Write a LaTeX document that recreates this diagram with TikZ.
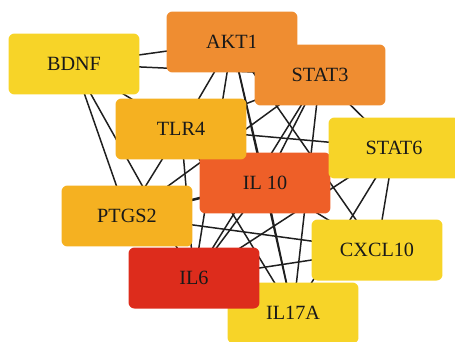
\documentclass[tikz,border=0pt]{standalone}
\usepackage{fontspec}
\setmainfont{Liberation Serif}
\usepackage{tikz}
\usetikzlibrary{backgrounds}
\definecolor{yel}{RGB}{247,212,40}
\definecolor{ora}{RGB}{239,141,49}
\definecolor{amb}{RGB}{245,177,33}
\definecolor{org}{RGB}{238,95,40}
\definecolor{rd}{RGB}{221,44,28}
\tikzstyle{gene}=[rectangle, rounded corners=3.4pt, minimum width=2.62cm, minimum height=1.22cm, inner sep=0pt, font=\fontsize{11.5}{13}\selectfont, text=black!90]
\tikzstyle{link}=[draw=black!88, line width=0.85pt]

\begin{document}
\begin{tikzpicture}[x=0.02cm, y=-0.02cm]
	\useasboundingbox (0,0) rectangle (455,341);
	\draw (74,64) node[gene, fill=yel] (bdnf) {BDNF};
	\draw (232,42) node[gene, fill=ora] (akt1) {AKT1};
	\draw (320,75) node[gene, fill=ora] (stat3) {STAT3};
	\draw (265,183) node[gene, fill=org] (il10) {IL 10};
	\draw (181,129) node[gene, fill=amb] (tlr4) {TLR4};
	\draw (394,148) node[gene, fill=yel] (stat6) {STAT6};
	\draw (127,216) node[gene, fill=amb] (ptgs2) {PTGS2};
	\draw (377,250) node[gene, fill=yel] (cxcl10) {CXCL10};
	\draw (293,313) node[gene, fill=yel] (il17a) {IL17A};
	\draw (194,278) node[gene, fill=rd] (il6) {IL6};
	\begin{scope}[on background layer]
	\draw[link] (bdnf.center) -- (akt1.center);
	\draw[link] (bdnf.center) -- (stat3.center);
	\draw[link] (bdnf.center) -- (tlr4.center);
	\draw[link] (bdnf.center) -- (ptgs2.center);
	\draw[link] (bdnf.center) -- (il6.center);
	\draw[link] (akt1.center) -- (tlr4.center);
	\draw[link] (akt1.center) -- (il6.center);
	\draw[link] (akt1.center) -- (il10.center);
	\draw[link] (akt1.center) -- (il17a.center);
	\draw[link] (akt1.center) -- (cxcl10.center);
	\draw[link] (stat3.center) -- (tlr4.center);
	\draw[link] (stat3.center) -- (ptgs2.center);
	\draw[link] (stat3.center) -- (il6.center);
	\draw[link] (stat3.center) -- (il10.center);
	\draw[link] (stat3.center) -- (il17a.center);
	\draw[link] (stat3.center) -- (stat6.center);
	\draw[link] (tlr4.center) -- (ptgs2.center);
	\draw[link] (tlr4.center) -- (il6.center);
	\draw[link] (tlr4.center) -- (stat6.center);
	\draw[link] (tlr4.center) -- (il17a.center);
	\draw[link] (tlr4.center) -- (cxcl10.center);
	\draw[link] (stat6.center) -- (il6.center);
	\draw[link] (stat6.center) -- (il17a.center);
	\draw[link] (stat6.center) -- (cxcl10.center);
	\draw[link] (stat6.center) -- (ptgs2.center);
	\draw[link] (il10.center) -- (il6.center);
	\draw[link] (il10.center) -- (il17a.center);
	\draw[link] (il10.center) -- (ptgs2.center);
	\draw[link] (ptgs2.center) -- (cxcl10.center);
	\draw[link] (il6.center) -- (cxcl10.center);
	\end{scope}
\end{tikzpicture}
\end{document}
